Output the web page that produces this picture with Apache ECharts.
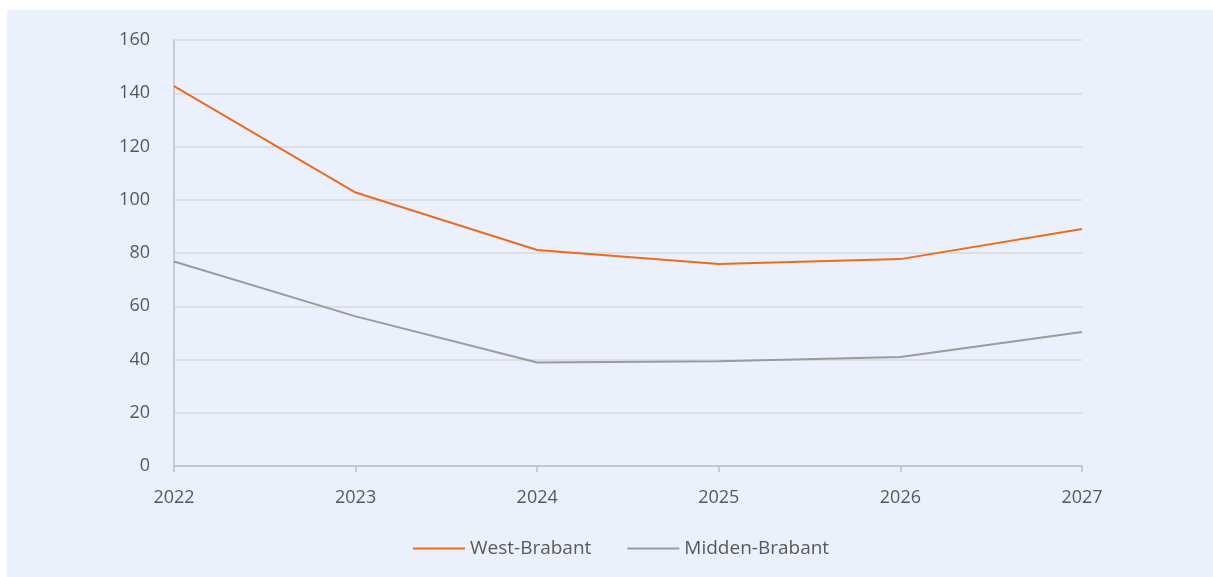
<!DOCTYPE html>
<html>
<head>
<meta charset="utf-8">
<script src="https://cdn.jsdelivr.net/npm/echarts@6/dist/echarts.min.js"></script>
<style>
html,body{margin:0;padding:0;background:#ffffff;width:1213px;height:577px;overflow:hidden;}
#chart{position:absolute;left:7px;top:10px;width:1206px;height:567px;background:#EAF1FD;}
</style>
</head>
<body>
<div id="chart"></div>
<script>
const years = ['2022','2023','2024','2025','2026','2027'];
const westBrabant = [142.7, 102.7, 81.1, 75.9, 77.7, 89.0];
const middenBrabant = [76.8, 56.2, 38.9, 39.3, 40.9, 50.3];
const yTicks = {min: 0, max: 160, interval: 20};

const font = "'Open Sans', 'Noto Sans', sans-serif";
const chart = echarts.init(document.getElementById('chart'), null, {renderer: 'canvas'});
chart.setOption({
  backgroundColor: 'transparent',
  animation: false,
  grid: {left: 167, right: 131, top: 30, bottom: 111},
  legend: {
    bottom: 14,
    left: 401,
    itemWidth: 52,
    itemHeight: 2,
    itemGap: 36,
    icon: 'rect',
    textStyle: {color: '#595959', fontSize: 19, fontFamily: font},
    data: ['West-Brabant', 'Midden-Brabant']
  },
  xAxis: {
    type: 'category',
    data: years,
    boundaryGap: false,
    axisLine: {lineStyle: {color: '#BFBFBF', width: 1.5}},
    axisTick: {show: true, length: 6, lineStyle: {color: '#BFBFBF', width: 1.5}},
    axisLabel: {color: '#595959', fontSize: 18, fontFamily: font, margin: 23}
  },
  yAxis: {
    type: 'value',
    min: yTicks.min, max: yTicks.max, interval: yTicks.interval,
    axisLine: {show: true, lineStyle: {color: '#BFBFBF', width: 1.5}},
    axisTick: {show: false},
    splitLine: {lineStyle: {color: '#D9D9D9', width: 1.5}},
    axisLabel: {color: '#595959', fontSize: 18, fontFamily: font, margin: 24}
  },
  series: [
    {
      name: 'West-Brabant', type: 'line', data: westBrabant,
      symbol: 'none', lineStyle: {color: '#ED6B1E', width: 2}, itemStyle: {color: '#ED6B1E'}
    },
    {
      name: 'Midden-Brabant', type: 'line', data: middenBrabant,
      symbol: 'none', lineStyle: {color: '#9B9B9B', width: 2}, itemStyle: {color: '#9B9B9B'}
    }
  ]
});
</script>
</body>
</html>
